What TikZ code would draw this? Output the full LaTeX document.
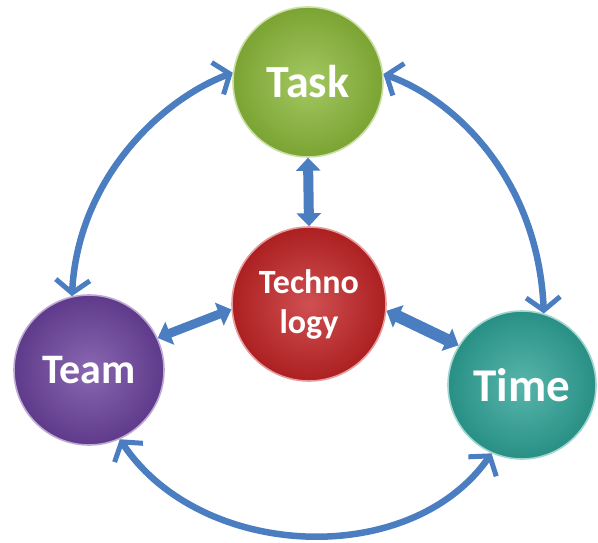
\documentclass[tikz,border=0pt]{standalone}
\usepackage{fontspec}
\setmainfont{Carlito}
\usetikzlibrary{arrows.meta}
\definecolor{arrowblue}{RGB}{74,126,193}
\definecolor{taskgreen}{RGB}{140,186,58}
\definecolor{techred}{RGB}{196,36,38}
\definecolor{teampurple}{RGB}{108,66,158}
\definecolor{timeteal}{RGB}{46,163,151}
\begin{document}
\begin{tikzpicture}[x=1pt,y=-1pt,
  ballnode/.style 2 args={circle, inner sep=0pt, minimum size=#2, text=white,
     align=center,
     inner color=#1!80!white, outer color=#1!88!black, shade,
     draw=#1!45!white, line width=1.6pt},
  arcarrow/.style={draw=arrowblue, line width=6.5pt,
     {Straight Barb[length=13pt,width=34pt,line width=5pt]}-{Straight Barb[length=13pt,width=34pt,line width=5pt]}},
  linkarrow/.style={draw=arrowblue, line width=#1,
     {Triangle[length=13pt,width=24pt]}-{Triangle[length=13pt,width=24pt]}}
]
\useasboundingbox (0,0) rectangle (598,543);
\node[ballnode={taskgreen}{150pt}, font=\bfseries\fontsize{46}{50}\selectfont] (task) at (308,82) {Task};
\node[ballnode={techred}{154pt}, font=\bfseries\fontsize{34}{40}\selectfont] (tech) at (309,304) {Techno\\logy};
\node[ballnode={teampurple}{150pt}, font=\bfseries\fontsize{42}{46}\selectfont] (team) at (89,370) {Team};
\node[ballnode={timeteal}{148pt}, font=\bfseries\fontsize{47}{50}\selectfont] (time) at (522,385) {Time};

\draw[linkarrow=10pt] (task.south) -- (tech.north);
\draw[linkarrow=9pt] (team.25) -- (tech.184);
\draw[linkarrow=12pt] (tech.-5) -- (time.148);

\draw[arcarrow] (team.103) .. controls (78,180) and (160,100) .. (task.173);
\draw[arcarrow] (task.6) .. controls (456,100) and (538,180) .. (time.73);
\draw[arcarrow] (team.-66) .. controls (200,560) and (410,570) .. (time.246);
\end{tikzpicture}
\end{document}
